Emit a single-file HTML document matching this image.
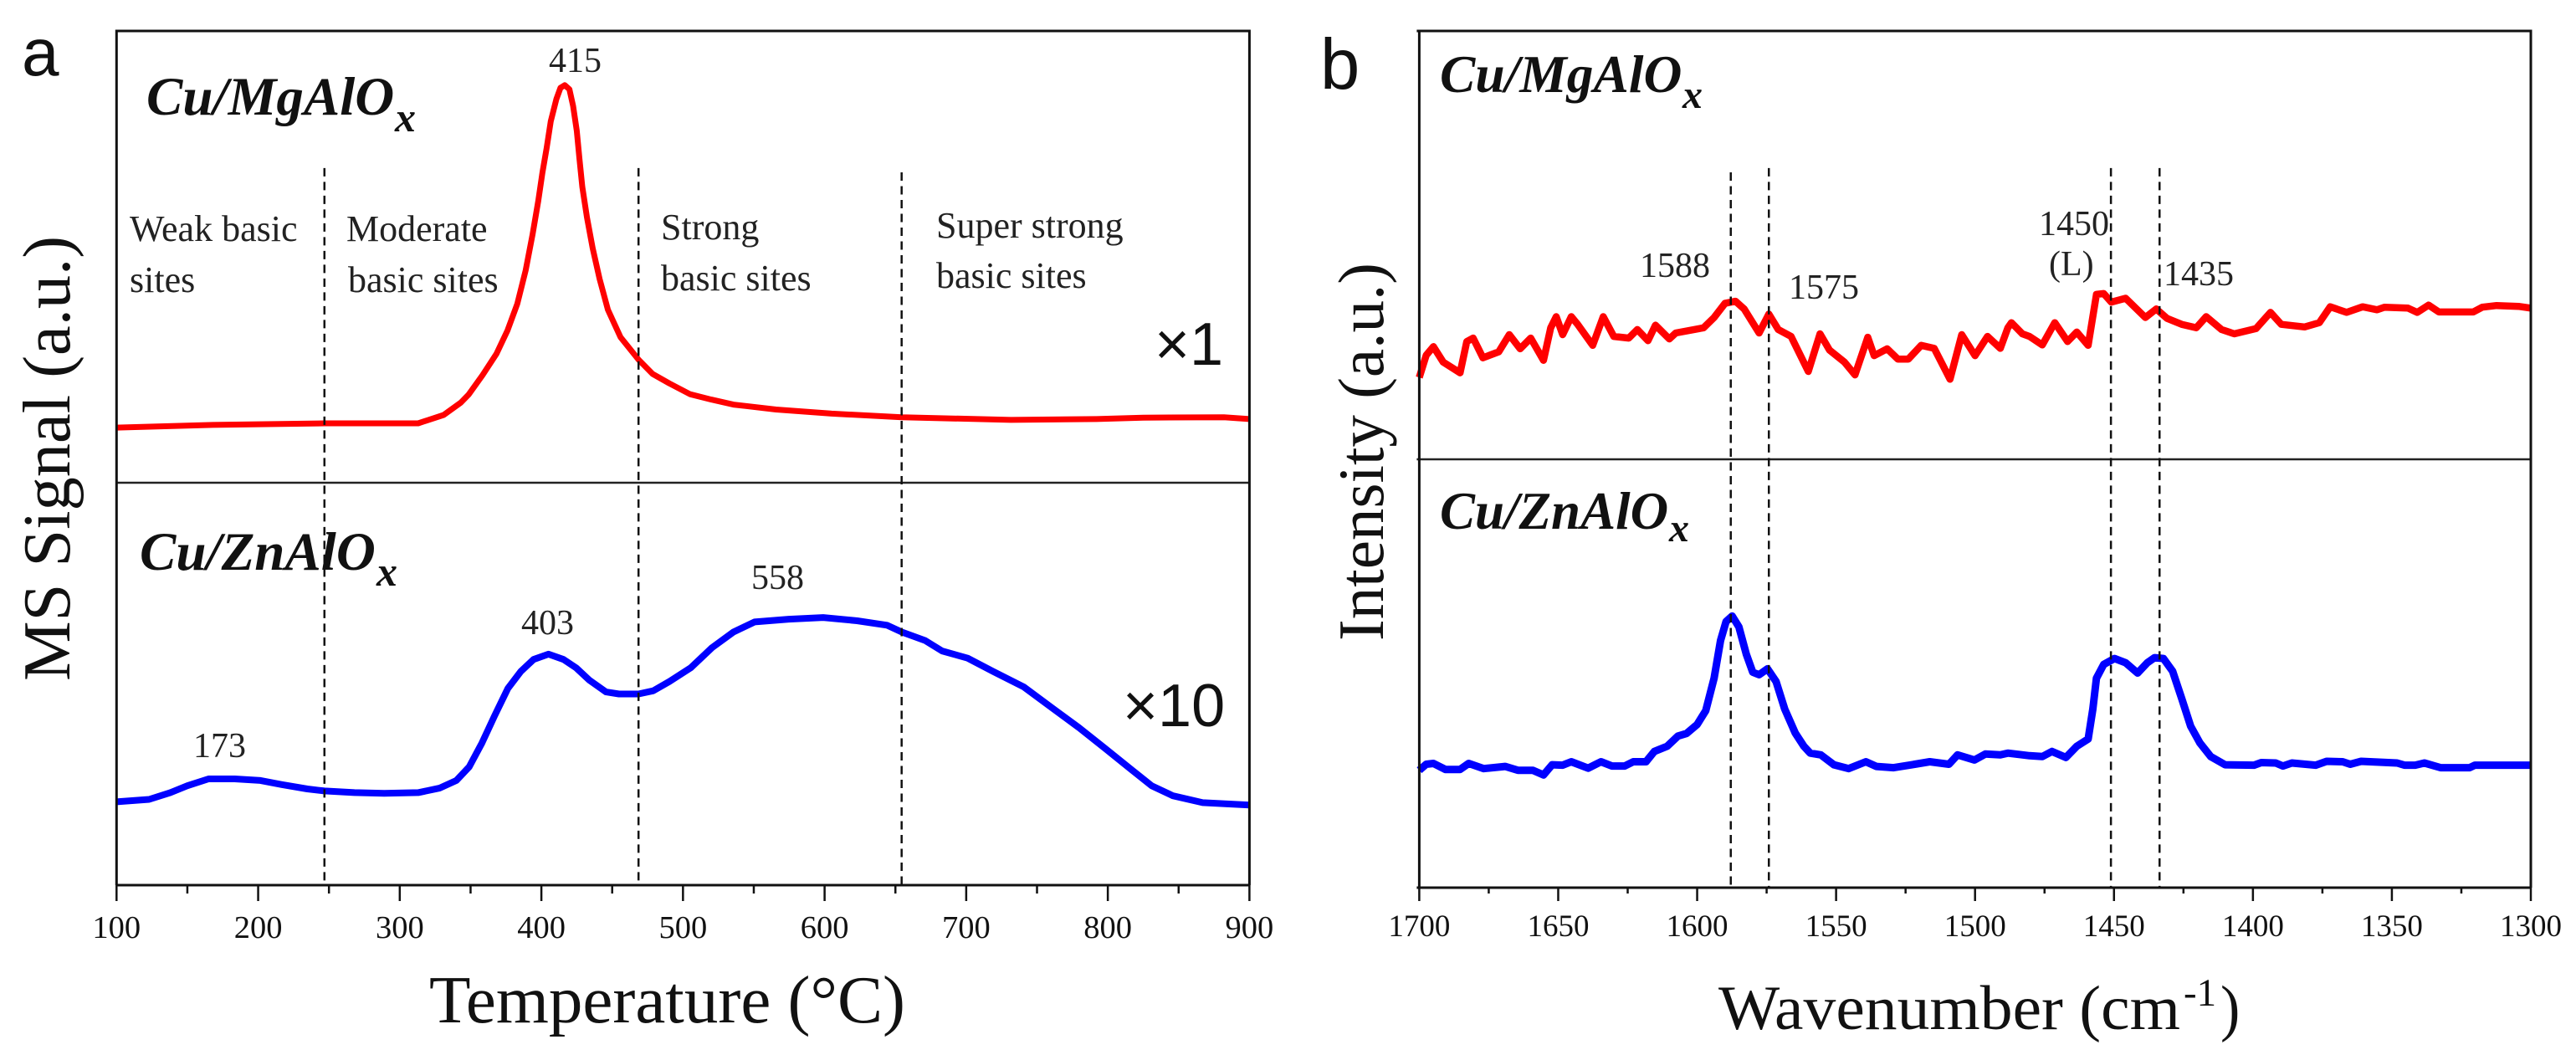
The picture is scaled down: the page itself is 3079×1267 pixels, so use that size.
<!DOCTYPE html>
<html lang="en">
<head>
<meta charset="utf-8">
<title>CO2-TPD and IR spectra of Cu/MgAlOx and Cu/ZnAlOx</title>
<style>
html,body{margin:0;padding:0;background:#fff;width:3079px;height:1267px;overflow:hidden}
svg{display:block}
text{font-family:"Liberation Serif",serif;fill:#111}
.sans{font-family:"Liberation Sans",sans-serif}
.note{font-size:44px;fill:#222}
.ann{font-size:42px;fill:#222}
.samp{font-weight:bold;font-style:italic}
</style>
</head>
<body>
<svg id="chart" xmlns="http://www.w3.org/2000/svg" width="3079" height="1267" viewBox="0 0 3079 1267">
  <rect width="3079" height="1267" fill="#fff"/>
  <g id="marks"></g>

  <text class="sans" x="26" y="90" font-size="80">a</text>
  <text class="sans" x="1578" y="106" font-size="85">b</text>

  <text transform="translate(83,814) rotate(-90)" font-size="80" textLength="532" lengthAdjust="spacingAndGlyphs">MS Signal (a.u.)</text>
  <text transform="translate(1653,766) rotate(-90)" font-size="77" textLength="452" lengthAdjust="spacingAndGlyphs">Intensity (a.u.)</text>
  <text x="513" y="1222" font-size="80" textLength="569" lengthAdjust="spacingAndGlyphs">Temperature (°C)</text>
  <g>
    <text transform="translate(2054,1230) scale(1,1.07)" font-size="70" textLength="552" lengthAdjust="spacingAndGlyphs">Wavenumber (cm</text>
    <text x="2610" y="1202" font-size="47" textLength="39" lengthAdjust="spacingAndGlyphs">-1</text>
    <text transform="translate(2654,1230) scale(1,1.07)" font-size="70">)</text>
  </g>

  <g>
    <text class="samp" x="175" y="137" font-size="65">Cu/MgAlO</text>
    <text class="samp" x="472" y="157" font-size="50">x</text>
  </g>
  <g>
    <text class="samp" x="167" y="681" font-size="65">Cu/ZnAlO</text>
    <text class="samp" x="450" y="700" font-size="50">x</text>
  </g>
  <g>
    <text class="samp" x="1721" y="110" font-size="63.5">Cu/MgAlO</text>
    <text class="samp" x="2011" y="129" font-size="48">x</text>
  </g>
  <g>
    <text class="samp" x="1721" y="632" font-size="63">Cu/ZnAlO</text>
    <text class="samp" x="1995" y="647" font-size="48">x</text>
  </g>

  <text class="note" x="155" y="288">Weak basic</text>
  <text class="note" x="155" y="349">sites</text>
  <text class="note" x="414" y="288">Moderate</text>
  <text class="note" x="416" y="349">basic sites</text>
  <text class="note" x="790" y="286">Strong</text>
  <text class="note" x="790" y="347">basic sites</text>
  <text class="note" x="1119" y="284">Super strong</text>
  <text class="note" x="1119" y="344">basic sites</text>

  <text class="sans" x="1380" y="436" font-size="72">×1</text>
  <text class="sans" x="1342" y="868" font-size="72">×10</text>

  <text class="ann" x="656" y="86" font-size="43">415</text>
  <text class="ann" x="623" y="758">403</text>
  <text class="ann" x="231" y="905">173</text>
  <text class="ann" x="898" y="704">558</text>
  <text class="ann" x="1960" y="331" font-size="40">1588</text>
  <text class="ann" x="2138" y="357" font-size="40">1575</text>
  <text class="ann" x="2437" y="281" font-size="40">1450</text>
  <text class="ann" x="2449" y="329" font-size="43">(L)</text>
  <text class="ann" x="2586" y="341" font-size="40">1435</text>
</svg>

<script>
// Panel a: temperature-programmed desorption (temperature in deg C, signal in a.u.)
const tprTempMg = [100,168,247,313,331,343,348.6,358.4,368.2,376.1,383,388.9,393.8,397.8,400.7,403.7,406.6,410.6,413.5,416.5,419.8,422.4,425,426.9,428.9,432.2,436.2,441.1,447,455.9,468.7,478.5,490.3,505,520,535.6,565.7,605,654.6,731.5,792,825,882,900];
const tprSignalMg = [12.2,12.8,13.15,13.15,15,17.7,19.5,23.8,28.5,33.7,39.6,47,55,62.4,68.6,74.1,80,84.9,87.4,88,87.1,83.4,77.9,71.7,65.5,58.7,51.9,45.1,38.3,32.2,27.2,24.1,22,19.6,18.4,17.3,16.2,15.3,14.5,13.9,14.1,14.4,14.5,14.1];
const tprTempZn = [100,123,138,150,165,183.5,201.6,216.7,234.7,246.8,268,289,313,328,340,349,358,367,376.4,385.5,394.5,405,415.6,424.6,433.7,445.7,454.8,468.6,479,490.4,505.4,520.5,535.6,550.6,574.7,599,623,644,654.6,671,683,701,719,740.5,761.6,779.7,798,816,831,846,867,900];
const tprSignalZn = [20.7,21.3,23,24.7,26.4,26.4,26,25,23.9,23.4,23,22.8,23,24.1,26,29.4,35.3,42.1,48.9,53.1,56.1,57.4,56.1,54,51,48,47.5,47.5,48.3,50.6,54,59,62.9,65.4,66.1,66.5,65.7,64.6,62.9,60.8,58.2,56.4,53.1,49.3,43.8,39.1,34,28.9,24.7,22.2,20.5,19.9];
const tprMajorTicks = [100,200,300,400,500,600,700,800,900];
const tprMinorTicks = [150,250,350,450,550,650,750,850];
const tprMarkers = [246.8,468.6,654.4];
const tprMarkerTops = [84,84,83.5];

// Panel b: infrared spectra (wavenumber in cm-1, intensity in a.u.)
const irWaveMg = [1700,1697.5,1694.9,1691.4,1685.3,1682.9,1680.6,1677.1,1671.4,1667.6,1663.7,1659.9,1655.3,1652.7,1650.7,1648.4,1645.3,1643,1637.6,1633.8,1630,1624.6,1621.5,1617.7,1615,1610,1607.7,1597.7,1593.9,1590,1586.2,1583.1,1577.7,1574.2,1570.8,1566.2,1560,1555.8,1552.4,1547,1543.2,1538.6,1536.3,1531.6,1527.8,1524,1519.4,1514.7,1509,1504.8,1500,1495.5,1490.9,1488.2,1486.9,1483,1480.4,1475.8,1471.3,1466.7,1463.4,1459.3,1456.3,1453.7,1451,1445.8,1438.7,1434.8,1430.9,1425.6,1420.4,1416.8,1411.3,1406.7,1398.9,1393.7,1389.8,1381.4,1376.1,1372.2,1366.3,1360.5,1355.3,1352.7,1344.2,1340.9,1336.8,1333.1,1320.7,1317.5,1312.3,1304.4,1300];
const irIntensityMg = [19.1,24.3,26.3,22.7,20.2,27.5,28.3,23.7,25.1,29.1,25.8,28.3,23.1,30.7,33.3,29.1,33.3,31.5,26.6,33.3,28.7,28.3,30.3,27.7,31.3,28.1,29.5,30.7,33.1,36.4,36.9,35.1,29.5,33.9,30.3,28.7,20.5,29.3,25.5,22.7,19.7,28.5,24.2,25.8,23.4,23.4,26.6,25.9,18.7,29.1,24.2,28.7,25.9,30.7,31.9,29.3,28.7,26.7,31.9,27.5,29.7,26.6,38.5,38.7,36.7,37.6,33.1,35.1,32.9,31.5,30.7,33.3,30.3,29.3,30.5,34.3,31.5,30.9,31.9,35.6,34.3,35.6,34.9,35.5,35.3,34.3,36,34.4,34.4,35.5,35.9,35.7,35.3];
const irWaveZn = [1700,1697.5,1694.9,1690.6,1685.3,1682.2,1676.8,1669.1,1664.5,1659.1,1655.3,1652.2,1648.4,1645.3,1639.2,1634.6,1630.7,1626.1,1623,1618.4,1615.4,1610.8,1606.9,1603.8,1600,1596.9,1593.9,1591.6,1589.6,1587.4,1585,1582.3,1580,1577.7,1574.7,1571.6,1568.5,1564.7,1561.6,1559.3,1555.5,1550.8,1545.5,1539.3,1535.5,1529.3,1521.7,1516.3,1509.4,1506.3,1500.2,1496.3,1490.9,1488.2,1480.4,1475.8,1472.3,1467.3,1463.4,1459.3,1457.6,1456.3,1453.7,1449.8,1445.8,1441.5,1438,1435.4,1432.2,1428.9,1425.6,1422.4,1419.1,1415.2,1410,1399.6,1397,1391.8,1389.2,1386,1377.4,1373.5,1367.7,1365,1361.1,1348.1,1345.5,1341.6,1338.3,1332.5,1322,1320.1,1300];
const irIntensityZn = [27.4,28.8,29,27.6,27.6,29,27.8,28.3,27.4,27.4,26.3,28.7,28.6,29.4,27.9,29.4,28.4,28.4,29.4,29.4,31.8,33,35.4,36,38.1,41.3,48.9,57.7,62.1,63.4,60.9,54.5,50.3,49.7,51.1,48.1,41.7,36.1,33,31.4,31,28.7,27.8,29.4,28.3,28,28.8,29.4,28.8,31,29.8,31.2,31,31.4,30.8,30.6,31.8,30.4,33,34.7,41.7,48.9,52.1,53.5,52.5,50.1,52.5,53.7,53.5,50.5,44.1,37.7,33.8,30.6,28.7,28.6,29.2,29.1,28.4,29.1,28.6,29.5,29.4,28.8,29.5,29.1,28.6,28.6,29.1,28,28,28.6,28.6];
const irMajorTicks = [1700,1650,1600,1550,1500,1450,1400,1350,1300];
const irMinorTicks = [1675,1625,1575,1525,1475,1425,1375,1325];
const irMarkers = [1587.9,1574.2,1451.1,1433.6];
const irMarkerTops = [83.5,84,84,84];

const SVG_NS = 'http://www.w3.org/2000/svg';
const marks = document.getElementById('marks');

// Axis functions
function linear(d0, d1, r0, r1) {
  return function (v) { return r0 + (v - d0) / (d1 - d0) * (r1 - r0); };
}
const xA = linear(100, 900, 139.3, 1493.4);
const yAMg = linear(0, 100, 577, 37);
const yAZn = linear(0, 100, 1058, 577);
const xB = linear(1700, 1300, 1696.4, 3025);
const yBMg = linear(0, 100, 549, 37);
const yBZn = linear(0, 100, 1061, 549);
const markerScale = linear(0, 100, 1061, 37);

function addLine(x1, y1, x2, y2, width, color) {
  const el = document.createElementNS(SVG_NS, 'line');
  el.setAttribute('x1', x1);
  el.setAttribute('y1', y1);
  el.setAttribute('x2', x2);
  el.setAttribute('y2', y2);
  el.setAttribute('stroke', color);
  el.setAttribute('stroke-width', width);
  marks.appendChild(el);
  return el;
}

function addSeries(xs, ys, xScale, yScale, color, width, name) {
  const el = document.createElementNS(SVG_NS, 'polyline');
  const pts = xs.map(function (v, i) { return xScale(v).toFixed(1) + ',' + yScale(ys[i]).toFixed(1); });
  el.setAttribute('points', pts.join(' '));
  el.setAttribute('fill', 'none');
  el.setAttribute('stroke', color);
  el.setAttribute('stroke-width', width);
  el.setAttribute('stroke-linejoin', 'round');
  
  
  marks.appendChild(el);
}

function addFrame(left, right, top, mid, bottom, over) {
  let el = addLine(left - over, top, right, top, 3, '#111');
  
  
  el = addLine(left - over, mid, right, mid, 2.5, '#222');
  
  
  el = addLine(left - over, bottom, right, bottom, 3, '#111');
  
  
  el = addLine(left, top - 1.5, left, bottom, 3, '#111');
  
  
  el = addLine(right, top - 1.5, right, bottom, 3, '#111');
  
  
}

function addTicks(majors, minors, xScale, axisY, baseline, fontSize) {
  majors.forEach(function (v) {
    const tick = addLine(xScale(v), axisY, xScale(v), 1077, 2.5, '#111');
    
    
    const label = document.createElementNS(SVG_NS, 'text');
    label.setAttribute('x', xScale(v));
    label.setAttribute('y', baseline);
    label.setAttribute('font-size', fontSize);
    label.setAttribute('text-anchor', 'middle');
    label.setAttribute('fill', '#222');
    
    
    label.textContent = String(v);
    marks.appendChild(label);
  });
  minors.forEach(function (v) {
    const tick = addLine(xScale(v), axisY, xScale(v), 1068, 2.5, '#111');
    
    
  });
}

function addMarkers(values, tops, xScale, bottom) {
  values.forEach(function (v, i) {
    const el = addLine(xScale(v), markerScale(tops[i]), xScale(v), bottom, 2.5, '#111');
    el.setAttribute('stroke-dasharray', '10 6.5');
    
    
  });
}

addSeries(tprTempMg, tprSignalMg, xA, yAMg, '#ff0000', 7, 'series-cu-mgalox-tpd');
addSeries(tprTempZn, tprSignalZn, xA, yAZn, '#0000ff', 8, 'series-cu-znalox-tpd');
addSeries(irWaveMg, irIntensityMg, xB, yBMg, '#ff0000', 8.5, 'series-cu-mgalox-ir');
addSeries(irWaveZn, irIntensityZn, xB, yBZn, '#0000ff', 9, 'series-cu-znalox-ir');

addFrame(139.3, 1493.4, 37, 577, 1058, 0);
addFrame(1696.4, 3025, 37, 549, 1061, 3);
addTicks(tprMajorTicks, tprMinorTicks, xA, 1058, 1121, 38.5);
addTicks(irMajorTicks, irMinorTicks, xB, 1061, 1119, 37);
addMarkers(tprMarkers, tprMarkerTops, xA, 1058);
addMarkers(irMarkers, irMarkerTops, xB, 1061);
</script>
</body>
</html>
